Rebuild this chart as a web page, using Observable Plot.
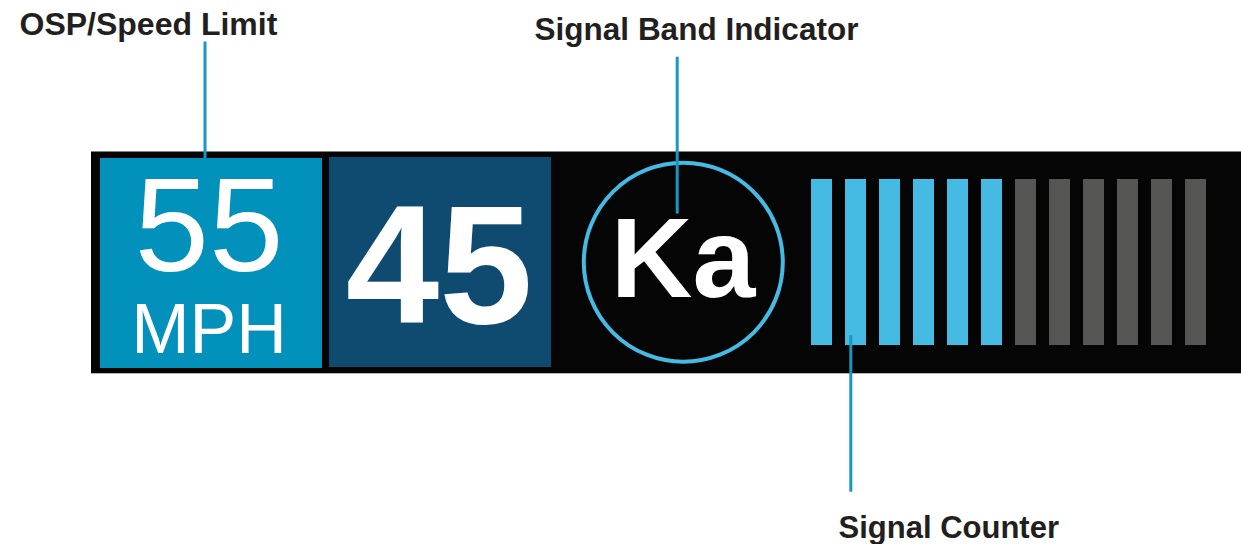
<!DOCTYPE html>
<html>
<head>
<meta charset="utf-8">
<script src="https://cdn.jsdelivr.net/npm/d3@7"></script>
<script src="https://cdn.jsdelivr.net/npm/@observablehq/plot@0.6"></script>
<style>
  html, body { margin: 0; padding: 0; background: #ffffff; }
  #chart svg { display: block; }
</style>
</head>
<body>
<div id="chart"></div>
<script>
// ---- values ----
const calloutLabels = ["OSP/Speed Limit", "Signal Band Indicator", "Signal Counter"];
const speedLimit = ["55"];
const speedUnit = ["MPH"];
const currentSpeed = ["45"];
const signalBand = ["Ka"];
const signalSegmentCount = [12];
const signalSegmentsLit = [6];

// ---- layout (pixel space of the drawing) ----
const W = 1241, H = 544;
const FONT = "Liberation Sans, Arial, Helvetica, sans-serif";
const colors = {
  panel: "#050505", limitBox: "#0291BA", speedBox: "#0F4A71",
  lit: "#45BAE3", unlit: "#555653", ring: "#45BAE3", leader: "#1797C1", label: "#231F20"
};
const panel = {x1: 91, x2: 1241, y1: 151.5, y2: 373.3};
const limitBox = {x1: 100, x2: 322, y1: 158, y2: 368};
const speedBox = {x1: 329, x2: 551, y1: 157, y2: 367};
const ring = {x: 682.8, y: 261.7, r: 99.5};
const seg = {x0: 811, step: 34, w: 21, y1: 179, y2: 345};

const segments = d3.range(signalSegmentCount[0]).map(i => ({
  x1: seg.x0 + i * seg.step,
  x2: seg.x0 + i * seg.step + seg.w,
  y1: seg.y1, y2: seg.y2,
  lit: i < signalSegmentsLit[0]
}));

const startLabels = [
  {text: calloutLabels[0], x: 19, y: 34.3, size: 32},
  {text: calloutLabels[2], x: 838, y: 537.7, size: 31}
];
const middleLabels = [
  {text: calloutLabels[1], x: 696, y: 39.3, size: 31.5}
];
const leaders = [
  {x: 204.5, y1: 41.5, y2: 158},
  {x: 676.7, y1: 56.7, y2: 213.5},
  {x: 850.3, y1: 335, y2: 491.7}
];

const chart = Plot.plot({
  width: W, height: H,
  margin: 0,
  x: {domain: [0, W], range: [0, W], axis: null},
  y: {domain: [0, H], range: [0, H], axis: null},
  style: {background: "#ffffff", fontFamily: FONT},
  marks: [
    Plot.rect([panel], {x1: "x1", x2: "x2", y1: "y1", y2: "y2", fill: colors.panel}),
    Plot.rect([limitBox], {x1: "x1", x2: "x2", y1: "y1", y2: "y2", fill: colors.limitBox}),
    Plot.rect([speedBox], {x1: "x1", x2: "x2", y1: "y1", y2: "y2", fill: colors.speedBox}),
    Plot.text(speedLimit, {x: () => 208.5, y: () => 270.7, text: d => d, fontSize: 134, fontWeight: "normal", fill: "#ffffff", textAnchor: "middle", lineAnchor: "bottom", fontFamily: FONT}),
    Plot.text(speedUnit, {x: () => 208.5, y: () => 352.7, text: d => d, fontSize: 70, fontWeight: "normal", fill: "#ffffff", textAnchor: "middle", lineAnchor: "bottom", fontFamily: FONT}),
    Plot.text(currentSpeed, {x: () => 438.7, y: () => 322.7, text: d => d, fontSize: 168, fontWeight: "bold", fill: "#ffffff", textAnchor: "middle", lineAnchor: "bottom", fontFamily: FONT}),
    Plot.dot([ring], {x: "x", y: "y", r: ring.r, stroke: colors.ring, strokeWidth: 4, fill: "none"}),
    Plot.text(signalBand, {x: () => 682.5, y: () => 296.7, text: d => d, fontSize: 113, fontWeight: "bold", fill: "#ffffff", textAnchor: "middle", lineAnchor: "bottom", fontFamily: FONT}),
    Plot.rect(segments, {x1: "x1", x2: "x2", y1: "y1", y2: "y2", fill: d => d.lit ? colors.lit : colors.unlit}),
    Plot.ruleX(leaders, {x: "x", y1: "y1", y2: "y2", stroke: colors.leader, strokeWidth: 3}),
    Plot.text(startLabels, {x: "x", y: "y", text: "text", textAnchor: "start", fontSize: d => d.size, fontWeight: "bold", fill: colors.label, lineAnchor: "bottom", fontFamily: FONT}),
    Plot.text(middleLabels, {x: "x", y: "y", text: "text", textAnchor: "middle", fontSize: d => d.size, fontWeight: "bold", fill: colors.label, lineAnchor: "bottom", fontFamily: FONT})
  ]
});
document.getElementById("chart").appendChild(chart);
</script>
</body>
</html>
